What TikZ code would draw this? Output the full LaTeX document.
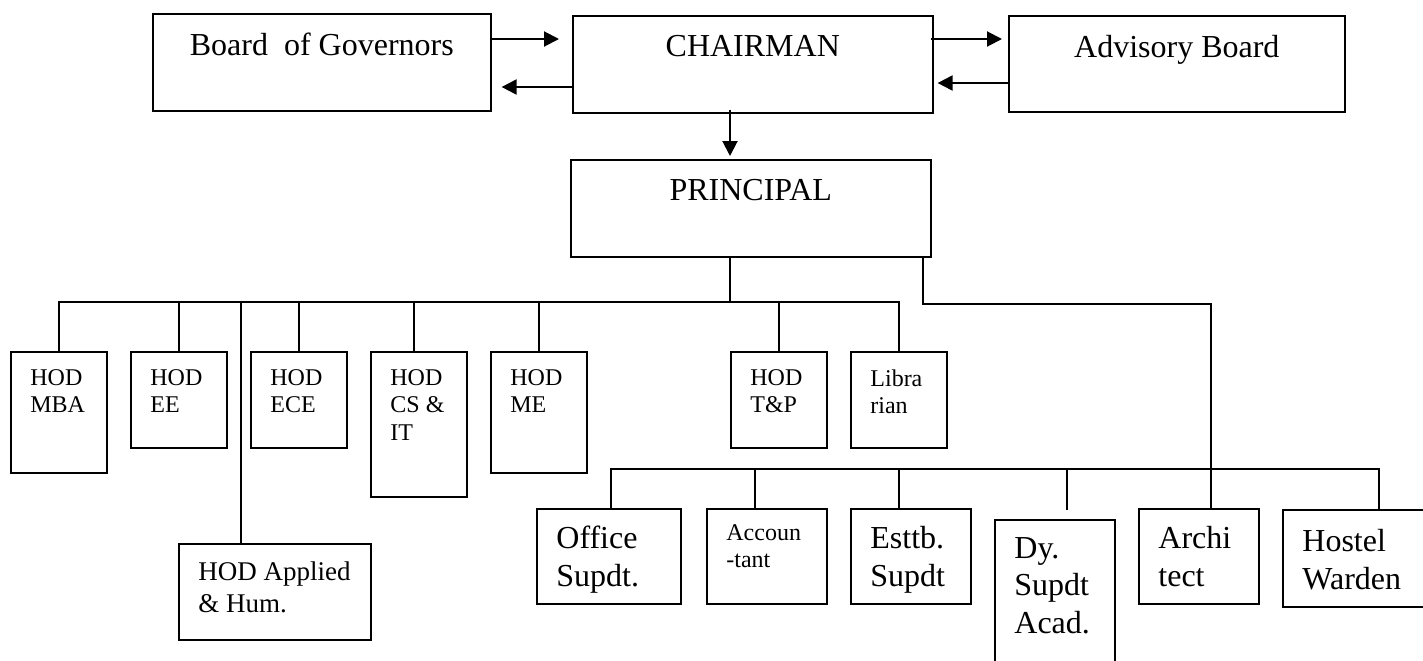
\documentclass[tikz,border=0pt]{standalone}
\usepackage{fontspec}
\setmainfont{Liberation Serif}
\usepackage{tikz}
\usetikzlibrary{positioning,arrows.meta}

\tikzset{
  box/.style={draw, line width=0.8pt, rectangle, inner sep=0pt, anchor=north west},
  big/.style={font=\fontsize{16}{18.7}\selectfont},
  mid/.style={font=\fontsize{13.5}{16.2}\selectfont},
  small/.style={font=\fontsize{12}{13.8}\selectfont},
  txt/.style={inner sep=0pt, align=left, anchor=north west, xshift=10pt, yshift=-9pt},
  head/.style={inner sep=0pt, anchor=north, yshift=-10pt},
  arr/.style={line width=1pt, -{Triangle[length=7.5pt,width=7.5pt]}},
  link/.style={line width=0.95pt}
}

\begin{document}
\begin{tikzpicture}[x=0.5pt, y=-0.5pt]
      \useasboundingbox (0,0) rectangle (1423,660);
      \clip (0,0) rectangle (1423,660);

      % Vertici in alto
      \node[box, minimum width=169pt, minimum height=48.5pt, label={[head,big]north:Board \ of Governors}] (board) at (152,13) {};
      \node[box, minimum width=180pt, minimum height=48.5pt, label={[head,big]north:CHAIRMAN}] (chair) at (572,15) {};
      \node[box, minimum width=168pt, minimum height=48pt, label={[head,big]north:Advisory Board}] (advis) at (1008,15) {};
      \node[box, minimum width=180pt, minimum height=48.5pt, label={[head,big]north:PRINCIPAL}] (princ) at (570,159) {};

      % Capi dipartimento
      \node[box, minimum width=48pt, minimum height=60.5pt, label={[txt,small]north west:HOD\\MBA}] (mba) at (10,351) {};
      \node[box, minimum width=48pt, minimum height=48pt, label={[txt,small]north west:HOD\\EE}] (ee) at (130,351) {};
      \node[box, minimum width=48pt, minimum height=48pt, label={[txt,small]north west:HOD\\ECE}] (ece) at (250,351) {};
      \node[box, minimum width=48pt, minimum height=72.5pt, label={[txt,small]north west:HOD\\CS \&\\IT}] (cs) at (370,351) {};
      \node[box, minimum width=48pt, minimum height=60.5pt, label={[txt,small]north west:HOD\\ME}] (me) at (490,351) {};
      \node[box, minimum width=48pt, minimum height=48pt, label={[txt,small]north west:HOD\\T\&P}] (tp) at (730,351) {};
      \node[box, minimum width=48pt, minimum height=48pt, label={[txt,small]north west:Libra\\rian}] (lib) at (850,351) {};
      \node[box, minimum width=96pt, minimum height=48pt, label={[txt,mid]north west:HOD Applied\\\& Hum.}] (app) at (178,543) {};

      % Personale
      \node[box, line width=1.2pt, minimum width=72pt, minimum height=47.5pt, label={[txt,big]north west:Office\\Supdt.}] (off) at (536,508) {};
      \node[box, minimum width=60pt, minimum height=47.5pt, label={[txt,small,yshift=1pt]north west:Accoun\\-tant}] (acc) at (706,508) {};
      \node[box, minimum width=60pt, minimum height=47.5pt, label={[txt,big]north west:Esttb.\\Supdt}] (est) at (850,508) {};
      \node[box, minimum width=60pt, minimum height=80pt, label={[txt,big]north west:Dy.\\Supdt\\Acad.}] (dy) at (994,519) {};
      \node[box, minimum width=60pt, minimum height=47.5pt, label={[txt,big]north west:Archi\\tect}] (arch) at (1138,508) {};
      \node[box, minimum width=75pt, minimum height=48.5pt, label={[txt,big,yshift=-1pt]north west:Hostel\\Warden}] (host) at (1282,509) {};

      % Punti di raccordo
      \coordinate (bus) at (730,302);
      \coordinate (sbus) at (1210,469);
      \coordinate (chout) at (bus |- chair.south);
      \coordinate (prin) at (bus |- princ.north);
      \coordinate (csin) at ([xshift=-2.5pt]cs.north);
      \coordinate (appin) at ([xshift=-17pt]app.north);
      \coordinate (offin) at ([xshift=1pt]off.north);
      \coordinate (accin) at ([xshift=-6pt]acc.north);
      \coordinate (estin) at ([xshift=-6pt]est.north);
      \coordinate (dyin) at ([xshift=6pt]dy.north);
      \coordinate (archin) at ([xshift=6pt]arch.north);
      \coordinate (hostin) at ([xshift=10.5pt]host.north);

      % Frecce in alto
      \draw[arr] ([yshift=-13pt]board.north east) -- ([xshift=-6.5pt,yshift=-12pt]chair.north west);
      \draw[arr] ([yshift=-36pt]chair.north west) -- ([xshift=5pt,yshift=-37pt]board.north east);
      \draw[arr] ([xshift=-1.5pt,yshift=-12pt]chair.north east) -- ([xshift=-3pt,yshift=-12pt]advis.north west);
      \draw[arr] ([yshift=-34pt]advis.north west) -- ([xshift=2pt,yshift=-34pt]chair.north east);
      \draw[arr] ([yshift=2pt]chout) -- ([yshift=1.5pt]prin);

      % Collegamenti
      \draw[link] (bus |- princ.south) -- (bus);
      \draw[link] (mba.north) |- (lib.north |- bus) -- (lib.north);
      \foreach \n in {ee,ece,me,tp}
        \draw[link] (\n.north) -- (\n.north |- bus);
      \draw[link] (csin) -- (csin |- bus);
      \draw[link] (appin) -- (appin |- bus);

      \draw[link] ([xshift=-4.4pt]princ.south east) -- ++(0,46) -| (archin);
      \draw[link] (offin) |- (hostin |- sbus) -- (hostin);
      \foreach \c in {accin,estin}
        \draw[link] (\c) -- (\c |- sbus);
      \draw[link] (dyin |- sbus) -- ([yshift=4.5pt]dyin);
\end{tikzpicture}
\end{document}
